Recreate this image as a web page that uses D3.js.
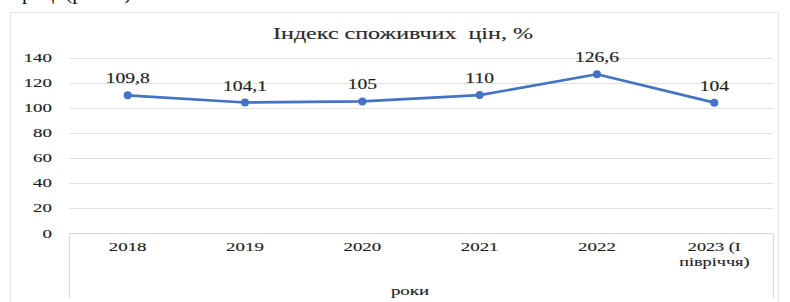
<!DOCTYPE html>
<html><head><meta charset="utf-8">
<script src="https://cdn.jsdelivr.net/npm/d3@7"></script>
<style>
html,body{margin:0;padding:0;background:#fff;}
svg{display:block;}
</style></head>
<body>
<svg id="chart" width="790" height="302"></svg>
<script>
const categories = ["2018", "2019", "2020", "2021", "2022", "2023 (I|півріччя)"];
const values = [109.8, 104.1, 105, 110, 126.6, 104];
const valueLabels = ["109,8", "104,1", "105", "110", "126,6", "104"];
const yTicks = [0, 20, 40, 60, 80, 100, 120, 140];
const title = "Індекс споживчих\u00a0\u00a0цін, %";
const xTitle = "роки";

const FONT = "'Liberation Serif', 'Times New Roman', serif";
const svg = d3.select("#chart");
const plot = {left: 69, right: 773, top: 57.5, bottom: 233};

const x = d3.scaleBand().domain(categories).range([plot.left, plot.right]);
const y = d3.scaleLinear().domain([0, 140]).range([plot.bottom, plot.top]);

const SX = 1.4;
function txt(g, str, px, py, size, anchor) {
  return g.append("text")
    .attr("transform", `translate(${px},${py}) scale(${SX},1)`)
    .attr("text-anchor", anchor || "middle")
    .attr("font-family", FONT)
    .attr("font-size", size)
    .attr("fill", "#1f1f1f")
    .attr("stroke", "#1f1f1f").attr("stroke-width", 0.15)
    .text(str);
}

// cut-off caption from the page above
svg.append("text").attr("x", 22).attr("y", -1).attr("font-size", 21)
  .attr("font-family", FONT).attr("fill", "#111").text("році (рис. 2)");

// chart frame
svg.append("rect").attr("x", 10.5).attr("y", 12.5).attr("width", 768).attr("height", 300)
  .attr("fill", "none").attr("stroke", "#e3e3e3").attr("stroke-width", 1);

// gridlines
const grid = svg.append("g");
grid.selectAll("line").data(yTicks.filter(d => d > 0)).join("line")
  .attr("x1", plot.left).attr("x2", plot.right)
  .attr("y1", d => Math.round(y(d)) + 0.5).attr("y2", d => Math.round(y(d)) + 0.5)
  .attr("stroke", "#e0e0e0").attr("stroke-width", 1.2);

// x axis line and bounding verticals
const axisY = Math.round(y(0)) + 0.5;
svg.append("line").attr("x1", plot.left).attr("x2", plot.right)
  .attr("y1", axisY).attr("y2", axisY).attr("stroke", "#d4d4d4").attr("stroke-width", 1.2);
[plot.left, plot.right].forEach(xx => {
  svg.append("line").attr("x1", xx + 0.5).attr("x2", xx + 0.5)
    .attr("y1", axisY).attr("y2", 298).attr("stroke", "#d9d9d9").attr("stroke-width", 1.2);
});

// y tick labels
const yl = svg.append("g");
yTicks.forEach(t => txt(yl, String(t), 52, y(t) + 4.5, 13.5, "end"));

// x tick labels
const xl = svg.append("g");
categories.forEach(c => {
  const cx = x(c) + x.bandwidth() / 2;
  const parts = c.split("|");
  parts.forEach((p, i) => txt(xl, p, cx, 251 + i * 15, parts.length > 1 ? 13 : 13.5, "middle"));
});

// line
const pts = categories.map((c, i) => [x(c) + x.bandwidth() / 2, y(values[i])]);
svg.append("path").attr("d", d3.line()(pts))
  .attr("fill", "none").attr("stroke", "#4472C4").attr("stroke-width", 2.6)
  .attr("stroke-linejoin", "round");
svg.append("g").selectAll("circle").data(pts).join("circle")
  .attr("cx", d => d[0]).attr("cy", d => d[1]).attr("r", 4)
  .attr("fill", "#4472C4");

// data labels
const dl = svg.append("g");
pts.forEach((p, i) => txt(dl, valueLabels[i], p[0], p[1] - 12, 14));

// title
svg.append("text").attr("x", 403).attr("y", 39)
  .attr("text-anchor", "middle").attr("font-size", 17)
  .attr("font-family", FONT)
  .attr("fill", "#2a2a2a").attr("stroke", "#2a2a2a").attr("stroke-width", 0.15)
  .attr("textLength", 260).attr("lengthAdjust", "spacingAndGlyphs")
  .text(title);

// axis title
txt(svg, xTitle, 410, 295, 13.5, "middle");
</script>
</body></html>
